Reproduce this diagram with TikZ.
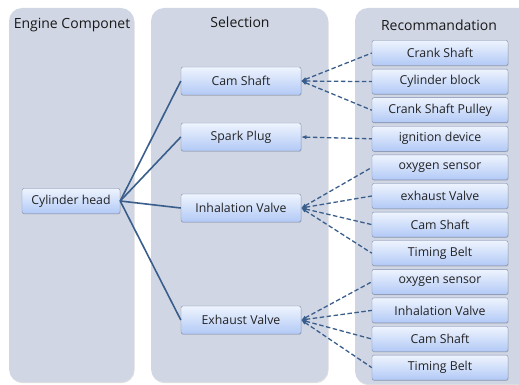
\documentclass[tikz,border=0pt]{standalone}
\usepackage{fontspec}
\setmainfont{Open Sans}
\usepackage{xcolor}
\usetikzlibrary{arrows.meta,positioning,shadows}

\definecolor{panelgray}{RGB}{208,214,228}
\definecolor{boxtop}{RGB}{238,244,254}
\definecolor{boxbot}{RGB}{178,201,246}
\definecolor{boxedge}{RGB}{125,140,172}
\definecolor{linkblue}{RGB}{58,94,140}
\definecolor{txtgray}{RGB}{35,35,35}

\begin{document}
\begin{tikzpicture}[
  x=1pt, y=-1pt,
  font=\fontsize{12.3}{14}\selectfont,
  panel/.style ={fill=panelgray, rounded corners=13pt,
                 drop shadow={opacity=0.25, shadow xshift=0.6pt, shadow yshift=-1.2pt}},
  head/.style  ={font=\fontsize{14}{16}\selectfont, text=black!90},
  item/.style  ={draw=boxedge, rounded corners=2pt, top color=boxtop, bottom color=boxbot,
                 text=txtgray, inner sep=0pt, minimum height=25pt,
                 drop shadow={opacity=0.3, shadow xshift=0.5pt, shadow yshift=-0.8pt}},
  pick/.style  ={item, minimum width=120pt, minimum height=28pt},
  rec/.style   ={item, minimum width=136pt},
  link/.style  ={draw=linkblue, line width=1.6pt},
  hint/.style  ={{Latex[length=1.8mm,width=1.5mm]}-, draw=linkblue, line width=1.3pt,
                 dash pattern=on 4.5pt off 2.5pt},
]
\useasboundingbox (0,0) rectangle (519,385);

% ---------------- the three columns ---------------------------------------
\fill[panel] (9,8)   rectangle (134,382);
\fill[panel] (151,8) rectangle (328,382);
\fill[panel] (355,8) rectangle (535,384);

\node[head] (t1) at (72,25)  {Engine Componet};
\node[head] (t2) at (240,22) {Selection};
\node[head] (t3) at (439,25) {Recommandation};

% ---------------- component and its selections ----------------------------
\node[item, minimum width=98pt] (cyl) at (71,201) {Cylinder head};

\node[pick] (cam) at (241,81)  {Cam Shaft};
\node[pick] (spk) at (241,137) {Spark Plug};
\node[pick] (inh) at (241,208) {Inhalation Valve};
\node[pick] (exh) at (241,320) {Exhaust Valve};

\foreach \s in {cam,spk,inh,exh}
  \draw[link] (cyl.east) -- (\s.west);

% ---------------- recommendations -----------------------------------------
\node[rec] (r1)  at (440,53) {Crank Shaft};
\node[rec] (r2)  [below=3.2pt of r1]  {Cylinder block};
\node[rec] (r3)  [below=3.2pt of r2]  {Crank Shaft Pulley};
\node[rec] (r4)  [below=3.2pt of r3]  {ignition device};
\node[rec] (r5)  [below=3.2pt of r4]  {oxygen sensor};
\node[rec] (r6)  [below=3.2pt of r5]  {exhaust Valve};
\node[rec] (r7)  [below=3.2pt of r6]  {Cam Shaft};
\node[rec] (r8)  [below=3.2pt of r7]  {Timing Belt};
\node[rec] (r9)  [below=3.2pt of r8]  {oxygen sensor};
\node[rec] (r10) [below=3.2pt of r9]  {Inhalation Valve};
\node[rec] (r11) [below=3.2pt of r10] {Cam Shaft};
\node[rec] (r12) [below=3.2pt of r11] {Timing Belt};

\foreach \r in {r1,r2,r3}
  \draw[hint] (cam.east) -- (\r.west);
\draw[hint] (spk.east) -- (r4.west);
\foreach \r in {r5,r6,r7,r8}
  \draw[hint] (inh.east) -- (\r.west);
\foreach \r in {r9,r10,r11,r12}
  \draw[hint] (exh.east) -- (\r.west);

\end{tikzpicture}
\end{document}
